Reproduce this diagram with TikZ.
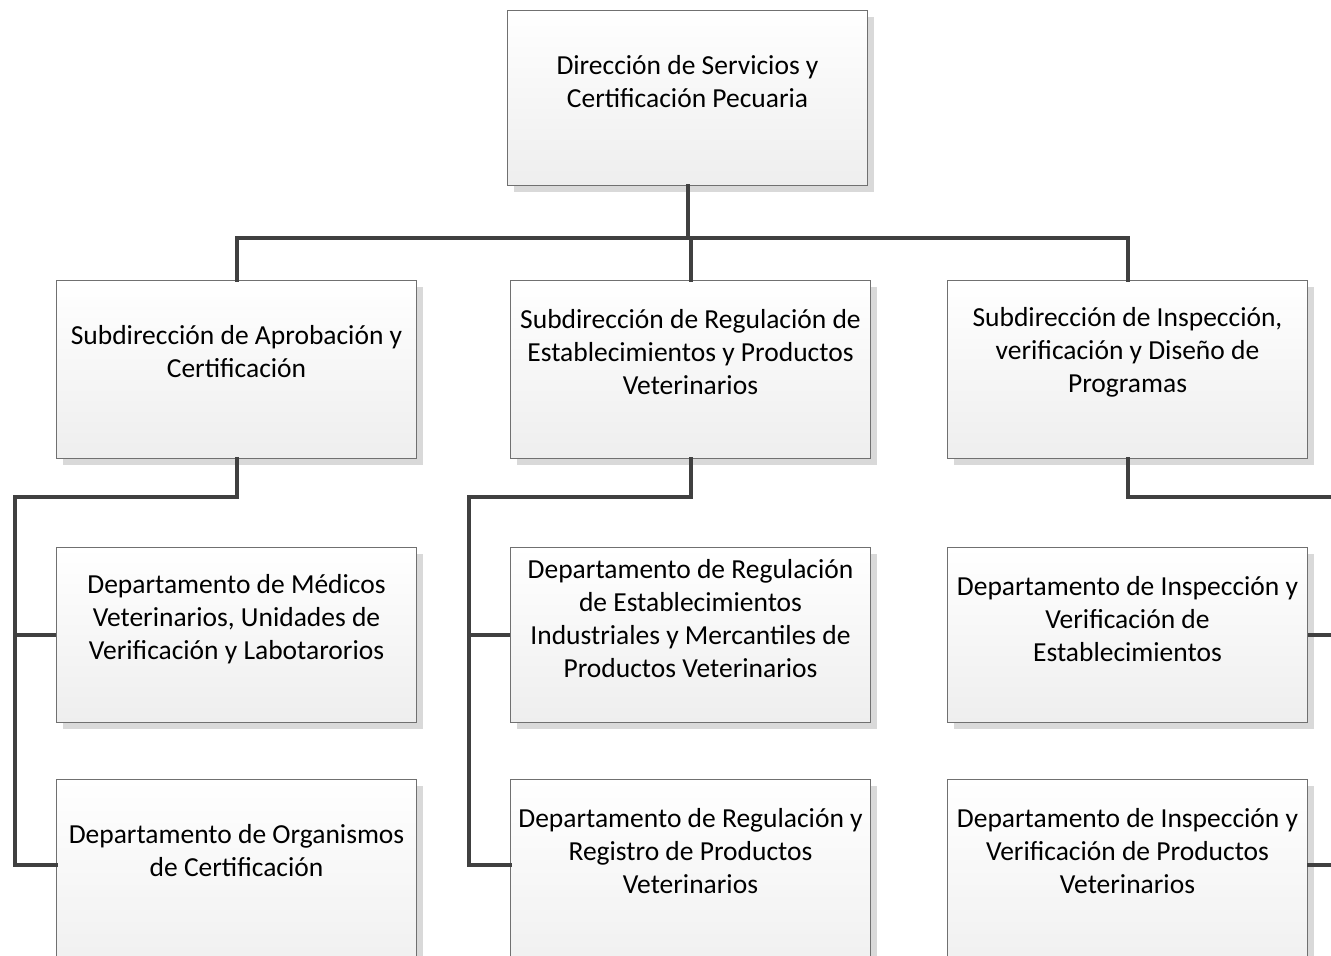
\documentclass[tikz,border=0pt]{standalone}
\usepackage{fontspec}
\setmainfont{Carlito}
\usetikzlibrary{shadows}
\definecolor{conncol}{HTML}{404040}
\definecolor{boxline}{HTML}{707070}
\definecolor{shadowcol}{HTML}{D9D9D9}
\definecolor{boxbottom}{HTML}{EEEEEE}
\tikzset{
  obox/.style={draw=boxline, line width=1pt, top color=white, bottom color=boxbottom,
    minimum width=360pt, inner sep=0pt, anchor=north west,
    drop shadow={shadow xshift=6pt, shadow yshift=-6pt, fill=shadowcol, opacity=1}},
  otext/.style={align=center, font=\fontsize{27.5}{33}\selectfont, inner sep=0pt, anchor=center},
  conn/.style={draw=conncol, line width=4pt, line cap=rect},
  branch/.style={draw=conncol, line width=3.5pt},
}
\begin{document}
\begin{tikzpicture}[x=1pt,y=-1pt]
\useasboundingbox (0,0) rectangle (1331,956);
\clip (0,0) rectangle (1331,956);
\fill[white] (0,0) rectangle (1331,956);
% boxes
\node[obox, minimum height=175pt] (top) at (507,10) {};
\node[obox, minimum height=178pt] (r2a) at (56,280) {};
\node[obox, minimum height=178pt] (r2b) at (510,280) {};
\node[obox, minimum height=178pt] (r2c) at (947,280) {};
\node[obox, minimum height=175pt] (r3a) at (56,547) {};
\node[obox, minimum height=175pt] (r3b) at (510,547) {};
\node[obox, minimum height=175pt] (r3c) at (947,547) {};
\node[obox, minimum height=210pt] (r4a) at (56,779) {};
\node[obox, minimum height=210pt] (r4b) at (510,779) {};
\node[obox, minimum height=210pt] (r4c) at (947,779) {};
% texts
\node[otext] (ttop) at ([yshift=-72pt]top.north) {Dirección de Servicios y\\Certificación Pecuaria};
\node[otext] (t2a) at ([yshift=-72pt]r2a.north) {Subdirección de Aprobación y\\Certificación};
\node[otext] (t2b) at ([yshift=-72pt]r2b.north) {Subdirección de Regulación de\\Establecimientos y Productos\\Veterinarios};
\node[otext] (t2c) at ([yshift=-72pt]r2c.north) {Subdirección de Inspección,\\verificación y Diseño de\\Programas};
\node[otext] (t3a) at ([yshift=-72pt]r3a.north) {Departamento de Médicos\\Veterinarios, Unidades de\\Verificación y Labotarorios};
\node[otext] (t3b) at ([yshift=-72pt]r3b.north) {Departamento de Regulación\\de Establecimientos\\Industriales y Mercantiles de\\Productos Veterinarios};
\node[otext] (t3c) at ([yshift=-72pt]r3c.north) {Departamento de Inspección y\\Verificación de\\Establecimientos};
\node[otext] (t4a) at ([yshift=-72pt]r4a.north) {Departamento de Organismos\\de Certificación};
\node[otext] (t4b) at ([yshift=-72pt]r4b.north) {Departamento de Regulación y\\Registro de Productos\\Veterinarios};
\node[otext] (t4c) at ([yshift=-72pt]r4c.north) {Departamento de Inspección y\\Verificación de Productos\\Veterinarios};
% junction coordinates
\coordinate (bus) at (689,238);
\coordinate (la) at (15,497);
\coordinate (lb) at (469,497);
\coordinate (lc) at (1345,497);
\coordinate (j4a) at (56,865);
\coordinate (j4b) at (510,865);
\coordinate (j4c) at (1307,865);
% connectors
\draw[conn] (top.south) -- (top.south |- bus);
\draw[conn] (r2a.north) -- (r2a.north |- bus) -- (r2c.north |- bus) -- (r2c.north);
\draw[conn] (r2b.north) -- (r2b.north |- bus);
\draw[conn] (r2a.south) -- (r2a.south |- la) -- (la) -- (la |- j4a) -- (j4a);
\draw[branch] (la |- r3a.west) -- (r3a.west);
\draw[conn] (r2b.south) -- (r2b.south |- lb) -- (lb) -- (lb |- j4b) -- (j4b);
\draw[branch] (lb |- r3b.west) -- (r3b.west);
\draw[conn] (r2c.south) -- (r2c.south |- lc) -- (lc);
\draw[branch] (r3c.east) -- (r3c.east -| lc);
\draw[branch] (j4c) -- (j4c -| lc);
\end{tikzpicture}
\end{document}
